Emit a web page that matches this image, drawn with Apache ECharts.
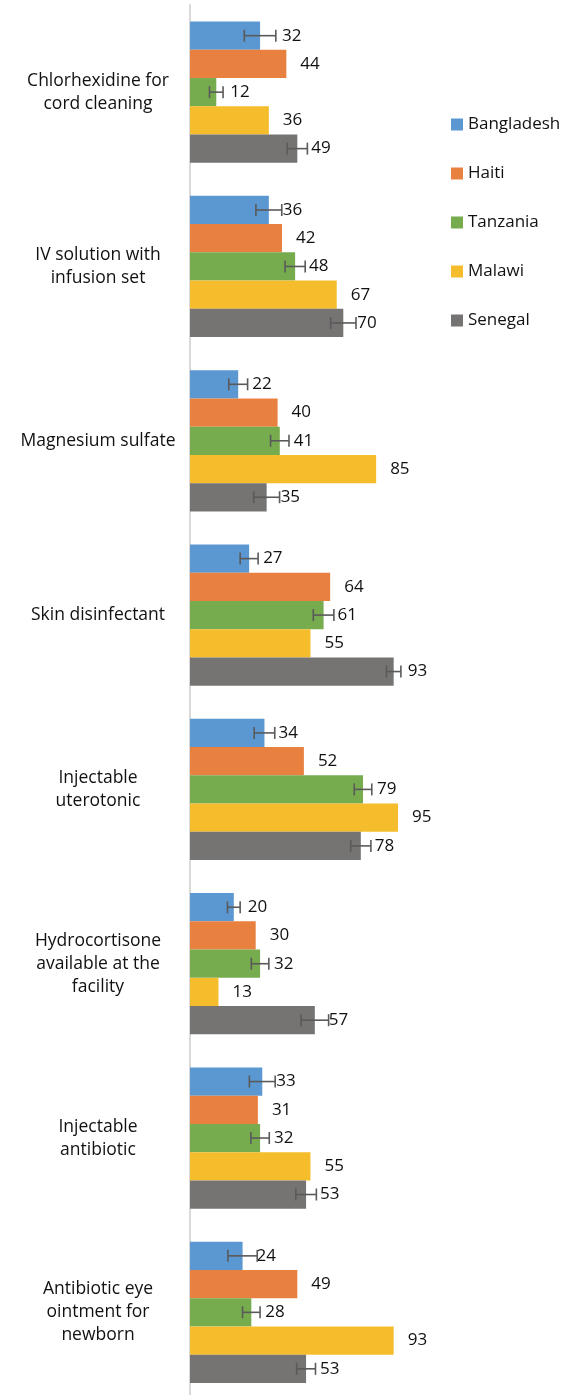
<!DOCTYPE html>
<html>
<head>
<meta charset="utf-8">
<script src="https://cdn.jsdelivr.net/npm/echarts@6/dist/echarts.min.js"></script>
<style>
html,body{margin:0;padding:0;background:#fff;overflow:hidden;}
#chart{width:566px;height:1402px;}
</style>
</head>
<body>
<div id="chart"></div>
<script>
const categories = [
  "Chlorhexidine for\ncord cleaning",
  "IV solution with\ninfusion set",
  "Magnesium sulfate",
  "Skin disinfectant",
  "Injectable\nuterotonic",
  "Hydrocortisone\navailable at the\nfacility",
  "Injectable\nantibiotic",
  "Antibiotic eye\nointment for\nnewborn"
];
const seriesNames = ["Bangladesh", "Haiti", "Tanzania", "Malawi", "Senegal"];
const bangladesh = [32, 36, 22, 27, 34, 20, 33, 24];
const haiti      = [44, 42, 40, 64, 52, 30, 31, 49];
const tanzania   = [12, 48, 41, 61, 79, 32, 32, 28];
const malawi     = [36, 67, 85, 55, 95, 13, 55, 93];
const senegal    = [49, 70, 35, 93, 78, 57, 53, 53];
// error bar half-widths (percentage points)
const errBangladesh = [7.2, 5.9, 4.3, 4.1, 4.7, 2.9, 5.9, 6.7];
const errTanzania   = [3.1, 4.6, 4.2, 4.7, 4.0, 4.0, 4.2, 4.0];
const errSenegal    = [4.6, 5.8, 5.9, 3.3, 4.6, 6.3, 4.7, 4.3];

const colors = ['#5b97d1', '#e8803f', '#76ab4e', '#f5bd2b', '#767373'];
const values = [bangladesh, haiti, tanzania, malawi, senegal];
const errors = {0: errBangladesh, 2: errTanzania, 4: errSenegal};
const FONT = '"Open Sans", "Liberation Sans", sans-serif';
const TEXT = '#111111';
const CAT_GAP = 0.19;

const series = [];
values.forEach((vals, i) => {
  series.push({
    name: seriesNames[i],
    type: 'bar',
    barGap: '0%',
    barCategoryGap: (CAT_GAP * 100) + '%',
    itemStyle: {color: colors[i]},
    label: {
      show: true, position: 'right', distance: 14,
      color: TEXT, fontSize: 17, fontFamily: FONT
    },
    data: vals.map((v, k) => {
      if (i === 0 && k === 0) return {value: v, label: {distance: 22}};
      return v;
    }),
    z: 2
  });
});

Object.keys(errors).forEach(key => {
  const idx = Number(key);
  const vals = values[idx];
  const errs = errors[key];
  series.push({
    name: 'err' + idx,
    type: 'custom',
    z: 5,
    clip: false,
    silent: true,
    data: vals.map((v, k) => [v, k, errs[k]]),
    renderItem: function (params, api) {
      const c = api.coord([api.value(0), api.value(1)]);
      const band = api.size([0, 1])[1];
      const bw = band * (1 - CAT_GAP) / 5;
      const y = c[1] + (idx - 2) * bw;
      const half = api.size([api.value(2), 0])[0];
      const x1 = c[0] - half, x2 = c[0] + half;
      const capH = 6;
      const style = {stroke: '#5a5a5a', lineWidth: 1.6};
      return {
        type: 'group',
        children: [
          {type: 'line', shape: {x1: x1, y1: y, x2: x2, y2: y}, style: style},
          {type: 'line', shape: {x1: x1, y1: y - capH, x2: x1, y2: y + capH}, style: style},
          {type: 'line', shape: {x1: x2, y1: y - capH, x2: x2, y2: y + capH}, style: style}
        ]
      };
    }
  });
});

const chart = echarts.init(document.getElementById('chart'));
chart.setOption({
  animation: false,
  backgroundColor: '#ffffff',
  grid: {left: 190, top: 5, width: 219, height: 1394.5},
  legend: {
    data: seriesNames,
    orient: 'vertical',
    left: 451,
    top: 116,
    padding: 0,
    itemWidth: 12,
    itemHeight: 12,
    itemGap: 32,
    icon: 'rect',
    textStyle: {fontSize: 17, fontFamily: FONT, color: TEXT}
  },
  xAxis: {type: 'value', min: 0, max: 100, show: false},
  yAxis: {
    type: 'category',
    data: categories,
    inverse: true,
    offset: 1,
    axisLine: {show: true, lineStyle: {color: '#d9d9d9', width: 2}},
    axisTick: {show: false},
    splitLine: {show: false},
    axisLabel: {
      margin: 91,
      align: 'center',
      fontSize: 17.5,
      lineHeight: 23,
      fontFamily: FONT,
      color: TEXT
    }
  },
  series: series
});
</script>
</body>
</html>
